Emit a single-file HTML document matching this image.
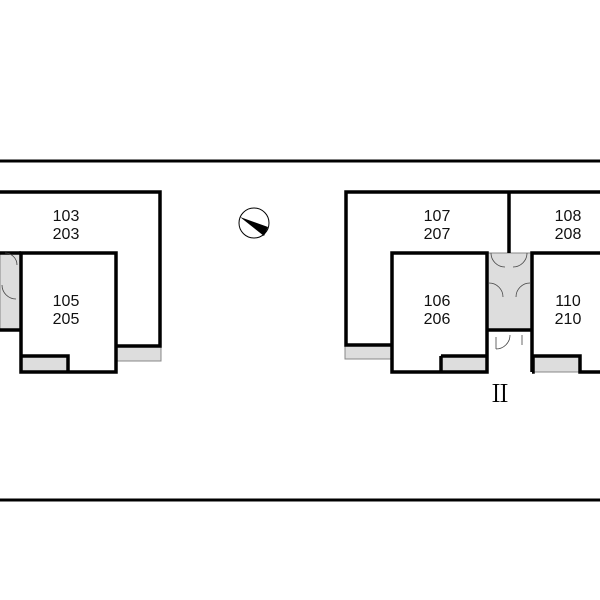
<!DOCTYPE html>
<html><head><meta charset="utf-8"><style>html,body{margin:0;padding:0;background:#fff}svg{display:block}</style></head><body>
<svg width="600" height="600" viewBox="0 0 600 600" xmlns="http://www.w3.org/2000/svg" font-family="Liberation Sans, sans-serif">
<rect width="600" height="600" fill="#fff"/>
<line x1="0" y1="161" x2="600" y2="161" stroke="#000" stroke-width="3"/>
<line x1="0" y1="500" x2="600" y2="500" stroke="#000" stroke-width="3"/>
<g fill="#ddd" stroke="#888" stroke-width="1">
<rect x="0" y="253" width="20" height="77"/>
<rect x="116" y="346" width="45" height="15"/>
<rect x="22" y="356" width="46" height="16"/>
<rect x="345" y="345" width="47" height="14"/>
<rect x="441" y="356" width="46" height="16"/>
<rect x="487" y="253" width="45" height="77"/>
<rect x="533" y="356" width="47" height="16"/>
</g>
<g fill="none" stroke="#000" stroke-width="3.5">
<polyline points="0,192 160,192 160,346 116,346"/>
<polyline points="0,253 21,253"/>
<path d="M21,253 H116 V372 H68 V356 H21 Z M21,330 V372 H68"/>
<polyline points="392,345 346,345 346,192 600,192"/>
<line x1="509" y1="192" x2="509" y2="253"/>
<path d="M392,253 H487 V372 H441 V356 H441 V372 H392 Z"/>
<path d="M441,356 H487"/>
<path d="M532,372 V253 H600"/>
<path d="M532,372 H533 V356 H580 V372 H600"/>
<line x1="487" y1="330" x2="532" y2="330"/>
<line x1="0" y1="330" x2="21" y2="330"/>
</g>
<g fill="none" stroke="#444" stroke-width="0.8">
<path d="M5,253 A12,12 0 0 1 17,265"/>
<path d="M2,285 A14,14 0 0 0 16,299"/>
<path d="M491,253 A14,14 0 0 0 505,267"/>
<path d="M527,253 A14,14 0 0 1 513,267"/>
<path d="M489,283 A14,14 0 0 1 503,297"/>
<path d="M530,283 A14,14 0 0 0 516,297"/>
<path d="M496,337 V349 M496,349 A14,14 0 0 0 510,335"/>
<path d="M522,335 V345"/>
</g>
<circle cx="254" cy="223" r="15" fill="#fff" stroke="#000" stroke-width="1"/>
<polygon points="240,217 268,227 264,236" fill="#000"/>
<g font-size="16" text-anchor="middle" fill="#111">
<text x="66" y="221">103</text><text x="66" y="239">203</text>
<text x="66" y="306">105</text><text x="66" y="324">205</text>
<text x="437" y="221">107</text><text x="437" y="239">207</text>
<text x="568" y="221">108</text><text x="568" y="239">208</text>
<text x="437" y="306">106</text><text x="437" y="324">206</text>
<text x="568" y="306">110</text><text x="568" y="324">210</text>
</g>
<text x="500" y="402" font-family="Noto Serif CJK SC, Liberation Serif, serif" font-size="24" text-anchor="middle">Ⅱ</text>
</svg>
</body></html>
